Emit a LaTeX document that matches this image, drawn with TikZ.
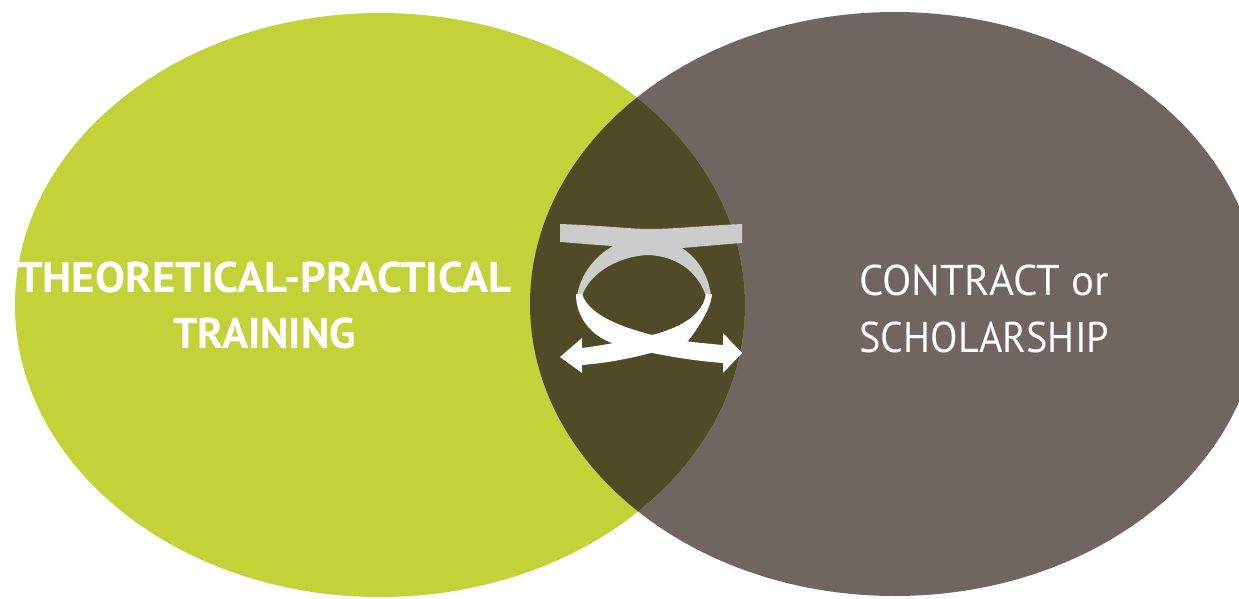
\documentclass[tikz,border=0pt]{standalone}
\usepackage{fontspec}
\setmainfont{PT Sans}
\definecolor{tgreen}{HTML}{C4D23A}
\definecolor{tbrown}{HTML}{706560}
\definecolor{tover}{HTML}{504A26}
\definecolor{tgray}{HTML}{CCCCCC}
\newsavebox\tbox
\newcommand\fitw[2]{\sbox\tbox{#2}\edef\tw{\the\wd\tbox}\pgfmathsetmacro\fr{#1/\tw}\scalebox{\fr}[1]{\usebox\tbox}}
\tikzset{
  bigtext/.style={text=white, inner sep=0pt},
}
\begin{document}
\begin{tikzpicture}[x=1pt,y=-1pt]
\useasboundingbox (0,0) rectangle (1239,599);
% circles
\fill[tbrown] (895,304) ellipse [x radius=365pt, y radius=292pt];
\fill[tgreen] (380,305) ellipse [x radius=365pt, y radius=292pt];
\begin{scope}
  \clip (380,305) ellipse [x radius=365pt, y radius=292pt];
  \fill[tover] (895,304) ellipse [x radius=365pt, y radius=292pt];
\end{scope}
% ribbon, grey back
\fill[tgray] (560,224) .. controls (610,226) and (630,229) .. (651,229)
  .. controls (672,229) and (700,226) .. (742,224) -- (742,243)
  .. controls (715,245) and (695,247) .. (682,248)
  .. controls (700,260) and (709,278) .. (711,296) -- (706,296)
  .. controls (697,270) and (675,256) .. (648,255)
  .. controls (620,256) and (590,272) .. (582,296) -- (577,296)
  .. controls (580,275) and (595,256) .. (613,246)
  .. controls (595,245) and (575,243) .. (560,242) -- cycle;
% ribbon, white front: left side to right arrow
\fill[white] (576,294) .. controls (576,318) and (592,336) .. (612,343)
  .. controls (630,349) and (680,360) .. (723,363) -- (723,373) -- (742,353)
  -- (723,333) -- (723,345) .. controls (700,343) and (670,340) .. (652,335)
  .. controls (630,329) and (590,318) .. (582,294) -- cycle;
% ribbon, white front: right side to left arrow
\fill[white] (712,294) .. controls (711,310) and (695,332) .. (688,341)
  .. controls (660,352) and (620,362) .. (582,365) -- (582,373) -- (560,357)
  -- (582,338) -- (582,348) .. controls (600,346) and (630,340) .. (652,335)
  .. controls (675,329) and (702,318) .. (706,294) -- cycle;
% texts (base anchor = baseline of the last line)
\node[bigtext, font=\fontsize{43}{56}\selectfont\bfseries, align=center, anchor=base] (lefttext) at (264.5,348)
  {\fitw{495pt}{THEORETICAL-PRACTICAL}\\\fitw{183pt}{TRAINING}};
\node[bigtext, font=\fontsize{43}{57}\selectfont, align=left, anchor=base west] (righttext) at (859,352)
  {\fitw{250pt}{CONTRACT or}\\\fitw{250pt}{SCHOLARSHIP}};
\end{tikzpicture}
\end{document}
